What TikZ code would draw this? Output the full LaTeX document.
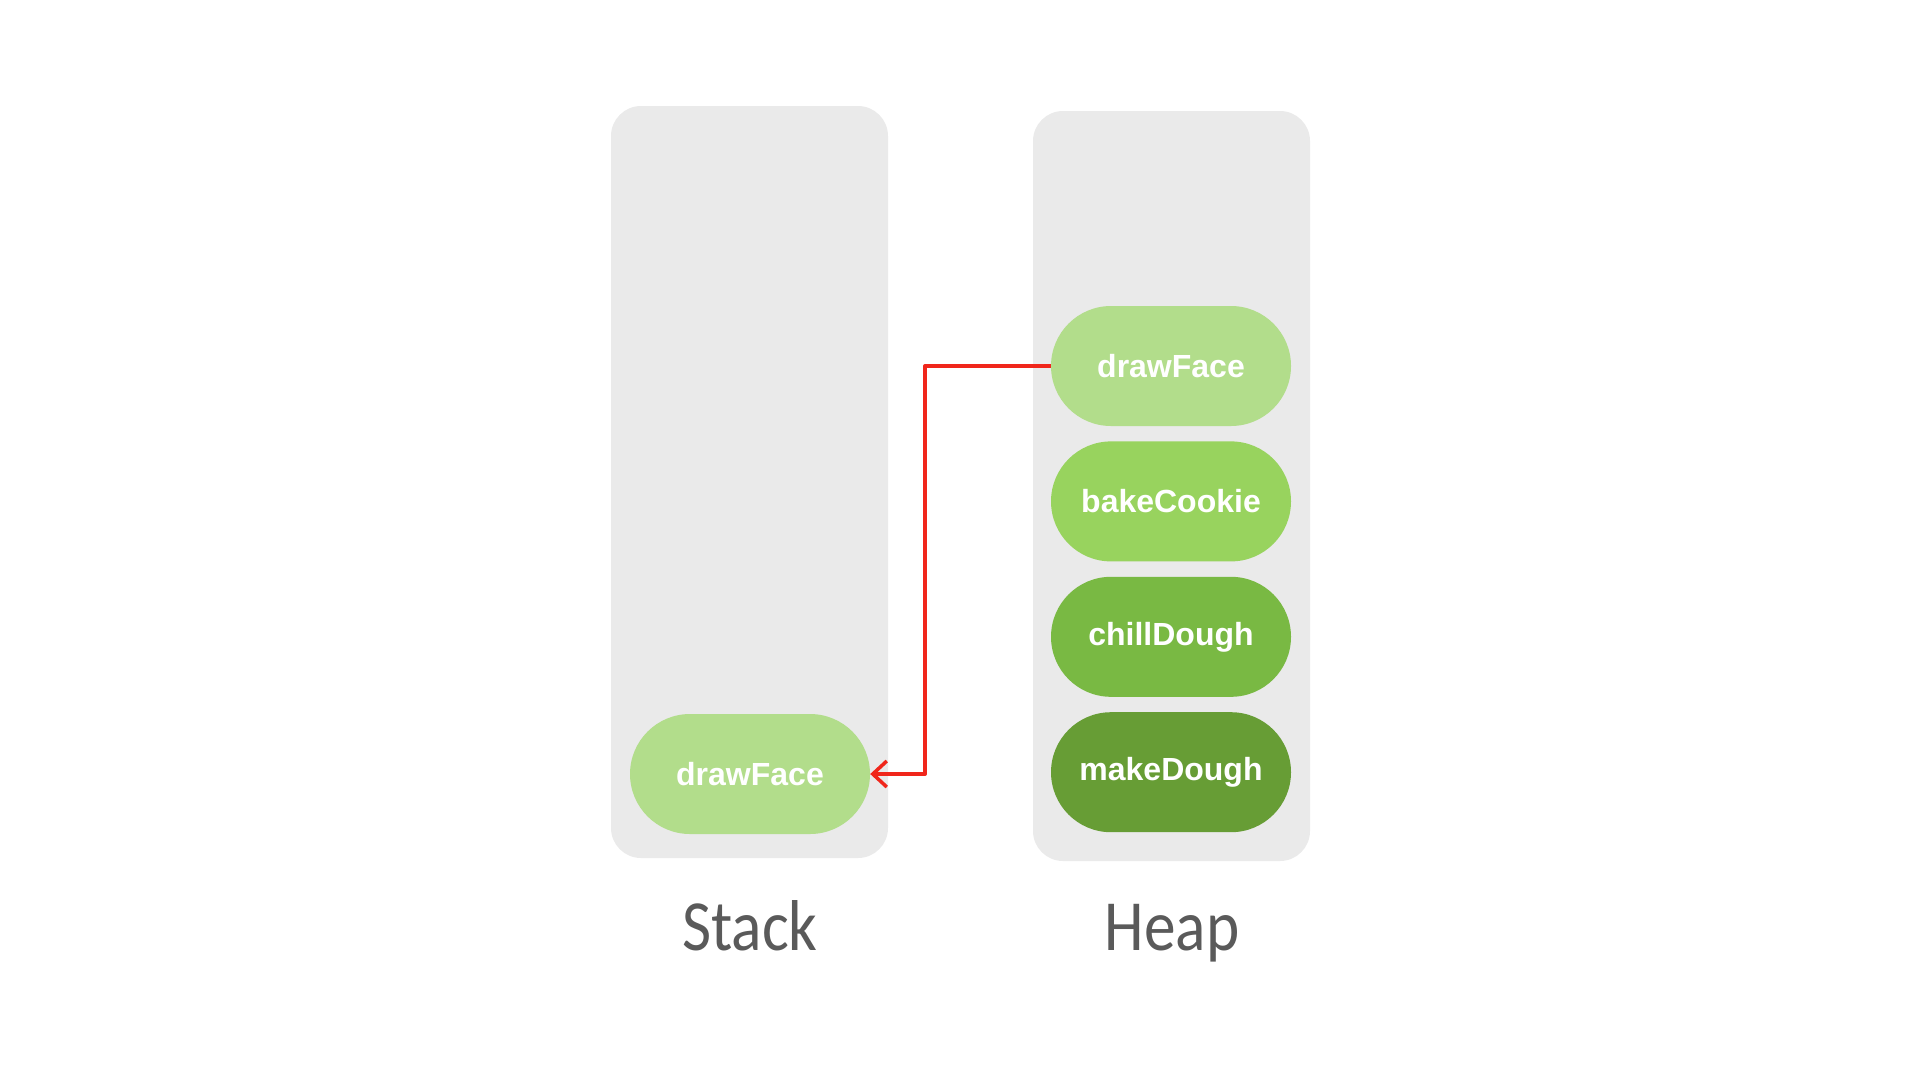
\documentclass[tikz,border=0pt]{standalone}
\usepackage{fontspec}
\setmainfont{Liberation Sans}
\newfontfamily\titlefont[FakeStretch=0.88]{Carlito}
\usetikzlibrary{arrows.meta,positioning}
\definecolor{areagray}{HTML}{EAEAEA}
\definecolor{labelgray}{HTML}{5A5A5A}
\definecolor{frameA}{HTML}{B2DD8B}
\definecolor{frameB}{HTML}{98D35E}
\definecolor{frameC}{HTML}{79B943}
\definecolor{frameD}{HTML}{679D35}
\definecolor{callred}{HTML}{F0261B}
\tikzset{
	area/.style={fill=areagray, draw=none, rounded corners=30pt},
	frame/.style={
			fill=#1, draw=none, rounded corners=60pt,
			minimum width=240pt, minimum height=120pt,
			text=white, font=\fontsize{32}{38}\selectfont\bfseries
		},
	title/.style={text=labelgray, anchor=base, font=\titlefont\fontsize{72}{82}\selectfont}
}

\begin{document}
\begin{tikzpicture}[x=1pt,y=-1pt]
        \useasboundingbox (0,0) rectangle (1920,1080);

        % Memory areas
        \fill[area] (611,106) rectangle (888,858);
        \fill[area] (1033,111) rectangle (1310,861);

        % Stack frame
        \node[frame=frameA] (stackface) at (750,774) {drawFace};

        % Heap frames
        \node[frame=frameA] (heapface) at (1171,366) {drawFace};
        \node[frame=frameB, below=15pt of heapface] (cookie) {bakeCookie};
        \node[frame=frameC, below=15pt of cookie] (chill) {chillDough};
        \node[frame=frameD, below=15pt of chill] (dough) {makeDough};

        % Labels
        \node[title] (stacklabel) at (750,950) {Stack};
        \node[title] (heaplabel) at (1172,950) {Heap};

        % Call arrow
        \draw[callred, line width=4pt, line join=round,
              -{Straight Barb[length=14pt, width=26pt, line width=3.5pt]}]
            (heapface.west) -| (925,774) -- (stackface.east);

    \end{tikzpicture}
\end{document}
